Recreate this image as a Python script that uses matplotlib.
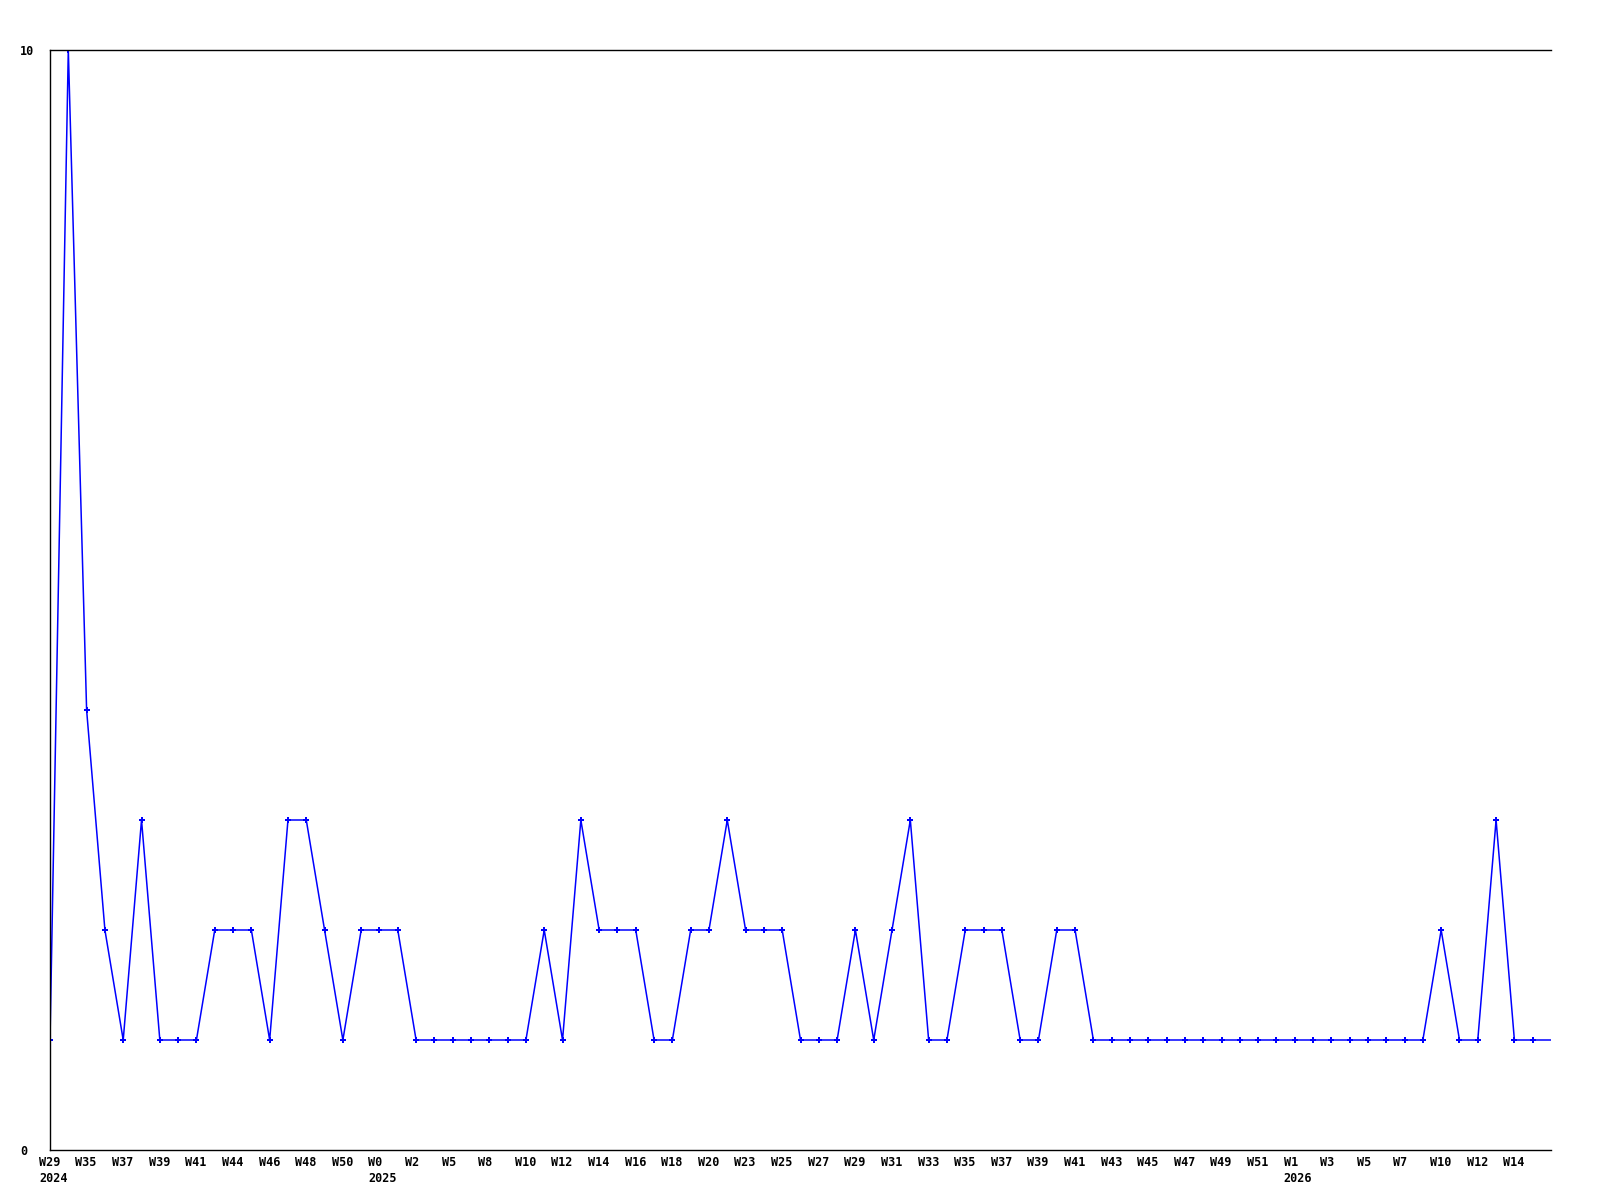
import matplotlib
matplotlib.use("Agg")
import matplotlib.pyplot as plt

values = [1, 10, 4, 2, 1, 3, 1, 1, 1, 2,
          2, 2, 1, 3, 3, 2, 1, 2, 2, 2,
          1, 1, 1, 1, 1, 1, 1, 2, 1, 3,
          2, 2, 2, 1, 1, 2, 2, 3, 2, 2,
          2, 1, 1, 1, 2, 1, 2, 3, 1, 1,
          2, 2, 2, 1, 1, 2, 2, 1, 1, 1,
          1, 1, 1, 1, 1, 1, 1, 1, 1, 1,
          1, 1, 1, 1, 1, 1, 2, 1, 1, 3,
          1, 1, 1]

tick_labels = ["W29\n2024", "W35", "W37", "W39", "W41", "W44", "W46", "W48", "W50",
               "W0\n2025", "W2", "W5", "W8", "W10", "W12", "W14", "W16", "W18", "W20",
               "W23", "W25", "W27", "W29", "W31", "W33", "W35", "W37", "W39", "W41",
               "W43", "W45", "W47", "W49", "W51", "W1\n2026", "W3", "W5", "W7",
               "W10", "W12", "W14"]

y_ticks = [0, 10]

FONT = "DejaVu Sans Mono"
FS = 8.5

fig = plt.figure(figsize=(16, 12), dpi=100)
ax = fig.add_axes([50/1600, 1 - 1150/1200, (1551-50)/1600, 1100/1200])

x = list(range(len(values)))
ax.plot(x, values, color="#0000FF", lw=1.1, marker="P", markersize=5,
        markevery=list(range(len(values) - 1)), markeredgewidth=0)

ax.set_xlim(0, len(values) - 1)
ax.set_ylim(0, 10)

tick_pos = list(range(0, 2 * len(tick_labels), 2))
ax.set_xticks(tick_pos)
ax.set_xticklabels([])
for pos, lab in zip(tick_pos, tick_labels):
    ax.annotate(lab, xy=(pos, 0), xycoords=("data", "axes fraction"),
                xytext=(-8.0, -4.0), textcoords="offset points",
                ha="left", va="top", multialignment="left", linespacing=1.3,
                fontfamily=FONT, fontweight="bold", fontsize=FS,
                annotation_clip=False)

ax.set_yticks(y_ticks)
ax.set_yticklabels([str(v) for v in y_ticks], fontfamily=FONT,
                   fontweight="bold", fontsize=FS)
for lbl in ax.get_yticklabels():
    lbl.set_horizontalalignment("left")
ax.tick_params(axis="y", length=0, pad=21.5)
ax.tick_params(axis="x", length=0, pad=4)

ax.spines["right"].set_visible(False)
for s in ("left", "top", "bottom"):
    ax.spines[s].set_linewidth(1.0)
    ax.spines[s].set_color("black")

fig.savefig("out.png", dpi=100, facecolor="white")
